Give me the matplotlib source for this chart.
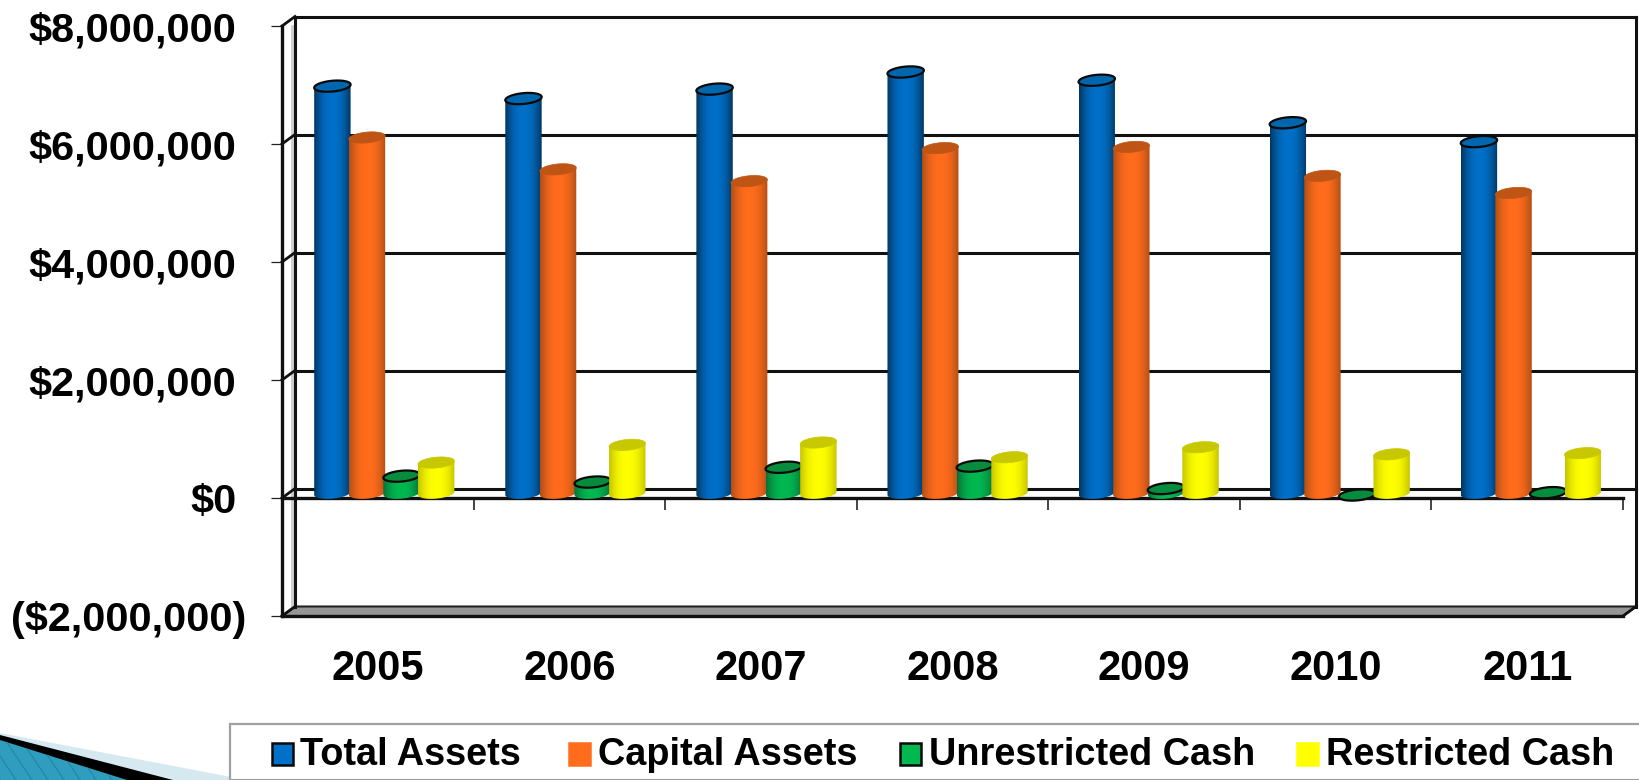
import matplotlib
matplotlib.use("Agg")
import matplotlib.pyplot as plt
import numpy as np
from matplotlib.lines import Line2D
from matplotlib.patches import Polygon, Rectangle

plt.rcParams["font.family"] = ["Liberation Sans", "DejaVu Sans"]
plt.rcParams["font.weight"] = "bold"

years = ["2005", "2006", "2007", "2008", "2009", "2010", "2011"]
total_assets = [6900000, 6690000, 6850000, 7140000, 7000000, 6280000, 5960000]
capital_assets = [6030000, 5490000, 5290000, 5850000, 5870000, 5380000, 5090000]
unrestricted_cash = [290000, 190000, 440000, 460000, 80000, -30000, 10000]
restricted_cash = [520000, 820000, 860000, 610000, 780000, 660000, 680000]
series_names = ["Total Assets", "Capital Assets", "Unrestricted Cash", "Restricted Cash"]
y_ticks = [-2000000, 0, 2000000, 4000000, 6000000, 8000000]
y_labels = ["($2,000,000)", "$0", "$2,000,000", "$4,000,000", "$6,000,000", "$8,000,000"]

W, H = 1640, 780
# front plane of the fake 3d box, in pixels
LEFT, RIGHT, TOP, BOTTOM = 282, 1623, 26, 616
DEPTH_X_PX, DEPTH_Y_PX = 13, 9.5

# center colour, edge colour, top colour, outlined top
styles = [
    ("#0070c8", "#03355f", "#0066ad", True),
    ("#ff6c1c", "#b04e16", "#bf5514", False),
    ("#00b850", "#0a6e38", "#078c3e", True),
    ("#ffff00", "#c4c400", "#c8c800", False),
]


def px(x, y):
    # top-left pixels to figure coords
    return x / W, 1 - y / H


fig = plt.figure(figsize=(W / 100, H / 100), dpi=100, facecolor="white")
ax = fig.add_axes([LEFT / W, 1 - BOTTOM / H, (RIGHT - LEFT) / W, (BOTTOM - TOP) / H])
ax.patch.set_visible(False)
for s in ax.spines.values():
    s.set_visible(False)

xmin, xmax, ymin, ymax = 0, len(years), y_ticks[0], y_ticks[-1]
sx = (xmax - xmin) / (RIGHT - LEFT)
sy = (ymax - ymin) / (BOTTOM - TOP)
dx = DEPTH_X_PX * sx
dy = DEPTH_Y_PX * sy

# floor
ax.add_patch(Polygon([(xmin, ymin), (xmax, ymin), (xmax + dx, ymin + dy), (xmin + dx, ymin + dy)],
                     facecolor="#969696", edgecolor="#222222", lw=1.5, zorder=1, clip_on=False))

# walls and gridlines
for v in y_ticks:
    if v != ymin:
        ax.plot([xmin + dx, xmax + dx], [v + dy, v + dy], color="#111111", lw=2.2, zorder=2, clip_on=False)
    ax.plot([xmin, xmin + dx], [v, v + dy], color="#111111", lw=2.0, zorder=2, clip_on=False)
ax.plot([xmin + dx] * 2, [ymin + dy, ymax + dy], color="#111111", lw=2.2, zorder=2, clip_on=False)
ax.plot([xmin + dx - 3 * sx] * 2, [ymin + dy, ymax], color="#cccccc", lw=2.0, zorder=1, clip_on=False)
ax.plot([xmax + dx] * 2, [ymin + dy, ymax + dy], color="#111111", lw=2.2, zorder=2, clip_on=False)
ax.plot([xmax, xmax + dx], [ymin, ymin + dy], color="#111111", lw=2.0, zorder=2, clip_on=False)
ax.plot([xmin, xmin], [ymin, ymax], color="#111111", lw=2.4, zorder=3, clip_on=False)
ax.plot([xmin, xmax], [ymin, ymin], color="#111111", lw=2.4, zorder=3, clip_on=False)
ax.plot([xmin, xmax], [0, 0], color="#111111", lw=2.4, zorder=3, clip_on=False)

# category separators below the zero line
ax.vlines(np.arange(1, len(years) + 1), -12 * sy, 0, color="#111111", lw=1.1, zorder=3, clip_on=False)

# cylinders
gap = 34.6 * sx
half_w = 18.2 * sx
half_h = 5.4 * sy
tilt = 1.6 * sy
theta = np.linspace(0, 2 * np.pi, 80)
shade = np.abs(np.linspace(-1, 1, 64)) ** 2.2
all_series = [total_assets, capital_assets, unrestricted_cash, restricted_cash]

for s_i, values in enumerate(all_series):
    center_col, edge_col, top_col, outlined = styles[s_i]
    c0 = np.array(matplotlib.colors.to_rgb(center_col))
    c1 = np.array(matplotlib.colors.to_rgb(edge_col))
    grad = np.array([c0 + (c1 - c0) * t for t in shade])[None, :, :]
    for i, v in enumerate(values):
        zo = 5 + s_i + i * 0.01
        cx = i * 0.9975 + 0.5 + dx / 2 + (s_i - 1.5) * gap
        base = dy / 2
        top = v + dy / 2
        ex = half_w * np.cos(theta)
        ey = half_h * np.sin(theta) + tilt * np.cos(theta)
        lower = np.sin(theta) <= 0
        # body outline, top edge then the lower half of the base ellipse
        order = np.argsort(-np.cos(theta[lower]))
        bx, by = ex[lower][order], ey[lower][order]
        body_pts = np.vstack([
            [cx - half_w, top - tilt],
            [cx + half_w, top + tilt],
            np.column_stack([cx + bx, base + by]),
        ])
        if v > 0:
            body = Polygon(body_pts, facecolor="none", edgecolor="none", zorder=zo, clip_on=False)
            ax.add_patch(body)
            im = ax.imshow(grad, extent=[cx - half_w, cx + half_w, base - half_h - tilt, top + tilt],
                           aspect="auto", zorder=zo, interpolation="bilinear")
            im.set_clip_path(body)
        ax.add_patch(Polygon(np.column_stack([cx + ex, top + ey]), closed=True, facecolor=top_col,
                             edgecolor="#0a0a0a" if outlined else top_col,
                             lw=1.6 if outlined else 0.5, zorder=zo + 0.1, clip_on=False))

ax.set_xlim(xmin, xmax)
ax.set_ylim(ymin, ymax)

ax.set_xticks(np.arange(len(years)) + 0.5)
ax.set_xticklabels(years, fontsize=30, fontweight="bold")
ax.tick_params(axis="x", length=0, pad=24)
ax.set_yticks(y_ticks)
ax.set_yticklabels(y_labels, fontsize=29.8, fontweight="bold")
ax.tick_params(axis="y", length=8, width=0.9, color="#222222", pad=25)
ax.yaxis.get_major_ticks()[0].set_pad(18)

# legend box, runs off the right and bottom edges
legend_x = [272, 569, 900, 1297]
text_x = [300, 598, 929, 1326]
fig.add_artist(Rectangle(px(230, 780), (W + 10 - 230) / W, 56 / H, transform=fig.transFigure,
                         facecolor="white", edgecolor="#a0a0a0", lw=1.6, zorder=3))
for i, name in enumerate(series_names):
    has_edge = styles[i][3]
    fig.add_artist(Rectangle(px(legend_x[i], 765), 21 / W, 22 / H, transform=fig.transFigure,
                             facecolor=styles[i][0], edgecolor="#0a0a0a" if has_edge else styles[i][0],
                             lw=1.8, zorder=4))
    fig.text(*px(text_x[i], 765), name, fontsize=27.3, fontweight="bold", ha="left", va="baseline", zorder=4)

# slide corner decoration
fig.add_artist(Polygon([px(0, 733), px(247, 780), px(0, 780)], transform=fig.transFigure,
                       facecolor="#d6e8f0", edgecolor="none", zorder=1))
fig.add_artist(Polygon([px(0, 735), px(173, 780), px(0, 780)], transform=fig.transFigure,
                       facecolor="#000000", edgecolor="none", zorder=1))
teal = Polygon([px(0, 740), px(127, 780), px(0, 780)], transform=fig.transFigure,
               facecolor="#2f9dbe", edgecolor="none", zorder=1)
fig.add_artist(teal)
for x0 in range(-30, 130, 16):
    stripe = Line2D(*zip(px(x0, 735), px(x0 + 30, 780)), transform=fig.transFigure,
                    color="#2789a8", lw=1.0, zorder=1.5)
    fig.add_artist(stripe)
    stripe.set_clip_path(teal)

fig.savefig("out.png", dpi=100, facecolor="white")
